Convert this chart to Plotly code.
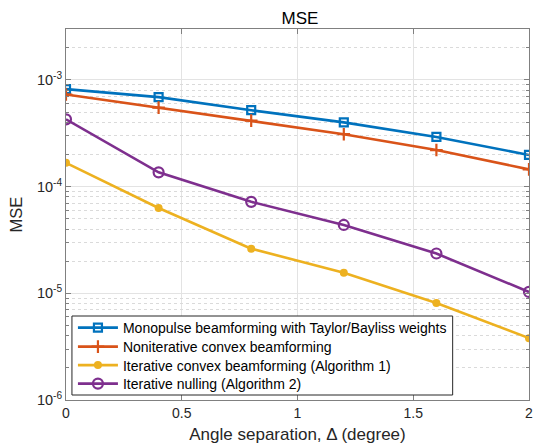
import plotly.graph_objects as go

# Angle separation (degrees)
delta = [0, 0.4, 0.8, 1.2, 1.6, 2.0]

# MSE for each method
mse_monopulse = [8.2e-4, 6.9e-4, 5.2e-4, 4.0e-4, 2.92e-4, 1.98e-4]
mse_noniterative = [7.3e-4, 5.5e-4, 4.15e-4, 3.1e-4, 2.2e-4, 1.45e-4]
mse_iter_convex = [1.67e-4, 6.3e-5, 2.62e-5, 1.56e-5, 8.1e-6, 3.8e-6]
mse_iter_nulling = [4.27e-4, 1.36e-4, 7.2e-5, 4.37e-5, 2.36e-5, 1.03e-5]

names = [
    "Monopulse beamforming with Taylor/Bayliss weights",
    "Noniterative convex beamforming",
    "Iterative convex beamforming (Algorithm 1)",
    "Iterative nulling (Algorithm 2)",
]

x_ticks = [0, 0.5, 1, 1.5, 2]
x_tick_text = ["0", "0.5", "1", "1.5", "2"]
y_ticks = [1e-6, 1e-5, 1e-4, 1e-3]
y_tick_text = ["10<sup>-6</sup>", "10<sup>-5</sup>", "10<sup>-4</sup>", "10<sup>-3</sup>"]
# minor log ticks (2..9 per decade) for the dotted grid
y_minor = [m * 10.0 ** e for e in range(-6, -2) for m in range(2, 10) if m * 10.0 ** e <= 3e-3]

colors = ["#0072BD", "#D95319", "#EDB120", "#7E2F8E"]
markers = [
    dict(symbol="square-open", size=8, line=dict(width=2.2)),
    dict(symbol="cross-thin", size=9, line=dict(width=2.2)),
    dict(symbol="circle", size=8, line=dict(width=0)),
    dict(symbol="circle-open", size=10, line=dict(width=2.2)),
]
series = [mse_monopulse, mse_noniterative, mse_iter_convex, mse_iter_nulling]

font_family = "Liberation Sans, Arial, sans-serif"
ink = "#262626"
edge = "#808080"
y_range = [-6, -2.5229]

# plot-area geometry in pixels (used to place the legend box)
W, H = 539, 448
ML, MR, MT, MB = 66, 6, 29, 48
PW, PH = W - ML - MR, H - MT - MB


def px_x(px):
    return (px - ML) / PW


def px_y(py):
    return (H - MB - py) / PH


fig = go.Figure()
# empty trace so the base (minor-grid) axis pair exists
fig.add_trace(go.Scatter(x=[None], y=[None], showlegend=False,
                         hoverinfo="skip", yaxis="y"))

legend_rows = [328, 347, 365.5, 384]
legend_cfg = {}
for i, (y, name, c, m) in enumerate(zip(series, names, colors, markers)):
    mk = dict(m)
    mk["color"] = c
    mk["line"] = dict(m["line"], color=c)
    lg = "legend" if i == 0 else f"legend{i + 1}"
    fig.add_trace(go.Scatter(
        x=delta, y=y, name=name, mode="lines+markers",
        line=dict(color=c, width=2.6), marker=mk, yaxis="y2", legend=lg,
    ))
    legend_cfg[lg] = dict(
        x=px_x(73), y=px_y(legend_rows[i]), xanchor="left", yanchor="middle",
        bgcolor="rgba(0,0,0,0)", borderwidth=0,
        font=dict(family=font_family, size=14, color="#000000"),
        itemwidth=40,
    )

fig.update_layout(
    width=W, height=H,
    margin=dict(l=ML, r=MR, t=MT, b=MB),
    paper_bgcolor="white", plot_bgcolor="white",
    font=dict(family=font_family, color=ink),
    title=dict(text="MSE", x=300 / W, xanchor="center",
               y=1 - 18 / H, yanchor="middle", yref="container",
               font=dict(size=17, color="#000000")),
    xaxis=dict(
        range=[0, 2], tickvals=x_ticks, ticktext=x_tick_text,
        showline=True, linecolor=edge, linewidth=1, mirror="ticks",
        ticks="inside", ticklen=5, tickcolor=edge,
        showgrid=True, gridcolor="#e3e3e3", gridwidth=1, zeroline=False,
        tickfont=dict(family=font_family, size=14, color=ink),
        title=dict(text="Angle separation, Δ (degree)", standoff=8,
                   font=dict(size=17, color=ink)),
    ),
    # base axis: dotted minor grid and minor ticks
    yaxis=dict(
        type="log", range=y_range, tickvals=y_minor,
        showticklabels=False,
        showline=True, linecolor=edge, linewidth=1, mirror="ticks",
        ticks="inside", ticklen=3, tickcolor=edge,
        showgrid=True, gridcolor="#dadada", griddash="dot", gridwidth=1,
        zeroline=False,
        title=dict(text="MSE", standoff=38, font=dict(size=16.5, color=ink)),
    ),
    # overlay axis: decade labels, solid grid and the data
    yaxis2=dict(
        type="log", range=y_range, overlaying="y", side="left",
        tickvals=y_ticks, ticktext=y_tick_text,
        showline=True, linecolor=edge, linewidth=1, mirror="ticks",
        ticks="inside", ticklen=5, tickcolor=edge,
        showgrid=True, gridcolor="#e3e3e3", gridwidth=1, zeroline=False,
        tickfont=dict(family=font_family, size=14.5, color=ink),
    ),
    shapes=[dict(
        type="rect", xref="paper", yref="paper", layer="above",
        x0=px_x(72), x1=px_x(456), y0=px_y(395), y1=px_y(316),
        fillcolor="white", line=dict(color=ink, width=1),
    )],
    showlegend=True,
    **legend_cfg,
)

fig.write_html("out.html")
